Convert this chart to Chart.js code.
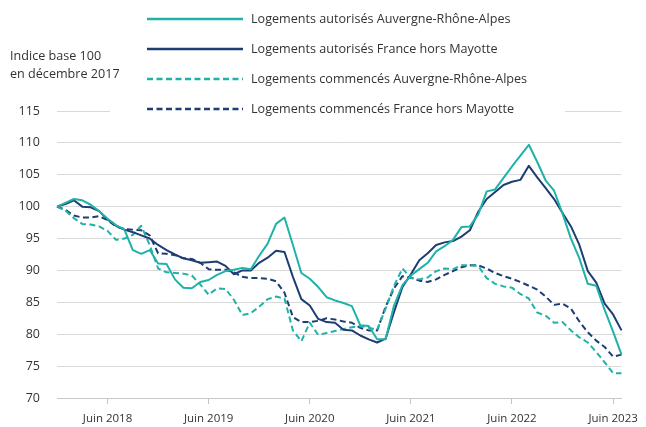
<!DOCTYPE html>
<html lang="fr">
<head>
<meta charset="utf-8">
<script src="https://cdn.jsdelivr.net/npm/chart.js@4.4.1/dist/chart.umd.min.js"></script>
<style>
  html, body { margin: 0; padding: 0; background: #fff; }
  #wrap { width: 646px; height: 427px; }
</style>
</head>
<body>
<div id="wrap"><canvas id="c" width="646" height="427"></canvas></div>
<script>
/* ===== Données (indice base 100 en décembre 2017) ===== */
const MOIS = [
  '2017-12',
  '2018-01','2018-02','2018-03','2018-04','2018-05','2018-06','2018-07','2018-08','2018-09','2018-10','2018-11','2018-12',
  '2019-01','2019-02','2019-03','2019-04','2019-05','2019-06','2019-07','2019-08','2019-09','2019-10','2019-11','2019-12',
  '2020-01','2020-02','2020-03','2020-04','2020-05','2020-06','2020-07','2020-08','2020-09','2020-10','2020-11','2020-12',
  '2021-01','2021-02','2021-03','2021-04','2021-05','2021-06','2021-07','2021-08','2021-09','2021-10','2021-11','2021-12',
  '2022-01','2022-02','2022-03','2022-04','2022-05','2022-06','2022-07','2022-08','2022-09','2022-10','2022-11','2022-12',
  '2023-01','2023-02','2023-03','2023-04','2023-05','2023-06','2023-07'
];

const AUTORISES_ARA = [
  100,
  100.6, 101.2, 101.0, 100.3, 99.3, 98.1, 97.1, 96.4, 93.2, 92.6, 93.2, 91.1,
  91.0, 88.6, 87.3, 87.2, 88.2, 88.5, 89.3, 89.9, 90.1, 90.4, 90.2, 92.3,
  94.2, 97.3, 98.3, 94.0, 89.6, 88.7, 87.4, 85.8, 85.3, 84.9, 84.4, 81.4,
  81.3, 79.2, 79.2, 84.5, 87.7, 89.2, 90.2, 91.2, 93.0, 93.8, 94.8, 96.8,
  96.9, 98.8, 102.4, 102.7, 104.5, 106.3, 108.0, 109.7, 107.0, 104.1, 102.5, 98.9,
  95.0, 91.9, 87.9, 87.6, 83.8, 80.4, 76.8
];

const AUTORISES_FRANCE = [
  100,
  100.4, 101.0, 100.0, 99.9, 99.3, 98.0, 97.0, 96.4, 96.0, 95.5, 95.0, 94.0,
  93.2, 92.5, 91.9, 91.6, 91.2, 91.3, 91.4, 90.7, 89.4, 90.0, 90.0, 91.2,
  92.0, 93.1, 92.9, 89.0, 85.5, 84.5, 82.4, 81.9, 81.8, 80.7, 80.6, 79.8,
  79.2, 78.7, 79.3, 83.5, 87.4, 89.4, 91.6, 92.7, 94.0, 94.4, 94.6, 95.3,
  96.3, 99.2, 101.2, 102.3, 103.4, 103.9, 104.2, 106.4, 104.6, 102.9, 101.2, 99.0,
  96.9, 94.0, 89.9, 88.1, 84.8, 83.1, 80.6
];

const COMMENCES_ARA = [
  100,
  99.4, 98.2, 97.3, 97.2, 96.9, 96.2, 94.8, 95.0, 95.6, 97.0, 94.0, 90.3,
  89.7, 89.6, 89.5, 89.2, 87.8, 86.2, 87.2, 87.1, 85.4, 83.0, 83.3, 84.3,
  85.5, 85.9, 85.6, 80.6, 78.9, 81.8, 79.9, 80.2, 80.5, 80.8, 81.1, 81.3,
  81.0, 80.7, 84.0, 87.6, 90.3, 88.8, 88.6, 88.9, 89.9, 90.3, 90.2, 90.8,
  90.8, 90.7, 88.8, 87.9, 87.5, 87.3, 86.3, 85.6, 83.4, 82.9, 81.8, 81.9,
  80.6, 79.5, 78.7, 77.2, 75.6, 73.9, 73.9
];

const COMMENCES_FRANCE = [
  100,
  99.5, 98.6, 98.3, 98.3, 98.5, 97.9, 96.9, 96.5, 96.4, 96.3, 95.5, 92.7,
  92.6, 92.4, 91.9, 91.8, 91.2, 90.2, 90.1, 90.1, 89.7, 89.0, 88.8, 88.8,
  88.7, 88.3, 86.5, 82.7, 81.9, 81.9, 82.1, 82.5, 82.3, 82.0, 81.8, 81.0,
  80.6, 80.6, 84.3, 87.2, 89.1, 88.9, 88.4, 88.2, 88.6, 89.3, 89.9, 90.5,
  90.8, 90.8, 90.3, 89.6, 89.1, 88.7, 88.2, 87.6, 87.0, 85.9, 84.6, 84.8,
  84.0, 82.0, 80.3, 79.0, 78.0, 76.5, 76.8
];

const SERIES_NOMS = [
  'Logements autorisés Auvergne-Rhône-Alpes',
  'Logements autorisés France hors Mayotte',
  'Logements commencés Auvergne-Rhône-Alpes',
  'Logements commencés France hors Mayotte'
];

const JUIN = ['2018-06','2019-06','2020-06','2021-06','2022-06','2023-06'];
const TICK_LABELS = ['Juin 2018','Juin 2019','Juin 2020','Juin 2021','Juin 2022','Juin 2023'];
const TITRE_Y = ['Indice base 100', 'en décembre 2017'];

/* ===== Style ===== */
const TEAL = '#1fb2a8';
const NAVY = '#1d3d73';
const DASH = [6, 3.5];
const FONT = '"Open Sans", "Noto Sans", sans-serif';
const TXT  = '#333333';

/* ===== Légende + titre de l'axe (dessinés à la main) ===== */
const legendePlugin = {
  id: 'legende',
  afterDraw(chart) {
    const { ctx } = chart;
    ctx.save();
    // bloc blanc de la légende (masque la ligne 115)
    ctx.fillStyle = '#fff';
    ctx.fillRect(110, 0, 455, 116);

    ctx.font = '12.6px ' + FONT;
    ctx.fillStyle = TXT;
    ctx.textBaseline = 'middle';
    ctx.textAlign = 'left';
    TITRE_Y.forEach((t, i) => ctx.fillText(t, 10, 56 + i * 18));

    const rows = [19, 49, 79, 109];
    chart.data.datasets.forEach((ds, i) => {
      const y = rows[i];
      ctx.beginPath();
      ctx.strokeStyle = ds.borderColor;
      ctx.lineWidth = 2.5;
      ctx.setLineDash(ds.borderDash || []);
      ctx.moveTo(147, y);
      ctx.lineTo(243, y);
      ctx.stroke();
      ctx.setLineDash([]);
      ctx.fillStyle = TXT;
      ctx.fillText(ds.label, 251, y);
    });
    ctx.restore();
  }
};

function serie(label, data, color, dashed) {
  return {
    label, data,
    borderColor: color,
    backgroundColor: color,
    borderWidth: 2,
    borderDash: dashed ? DASH : [],
    pointRadius: 0,
    tension: 0,
    borderJoinStyle: 'round',
    fill: false
  };
}

new Chart(document.getElementById('c').getContext('2d'), {
  type: 'line',
  data: {
    labels: MOIS,
    datasets: [
      serie(SERIES_NOMS[0], AUTORISES_ARA, TEAL, false),
      serie(SERIES_NOMS[1], AUTORISES_FRANCE, NAVY, false),
      serie(SERIES_NOMS[2], COMMENCES_ARA, TEAL, true),
      serie(SERIES_NOMS[3], COMMENCES_FRANCE, NAVY, true)
    ]
  },
  options: {
    responsive: false,
    animation: false,
    layout: { padding: { left: 0, right: 15, top: 111, bottom: 0 } },
    plugins: { legend: { display: false }, tooltip: { enabled: false } },
    scales: {
      x: {
        type: 'category',
        offset: false,
        grid: { drawOnChartArea: false, drawTicks: true, tickLength: 6, color: '#c4c4c4' },
        border: { display: true, color: '#c8c8c8' },
        ticks: {
          autoSkip: false, maxRotation: 0, minRotation: 0, padding: 8,
          color: TXT, font: { family: FONT, size: 11.5 },
          callback(v, i) {
            const k = JUIN.indexOf(MOIS[i]);
            return k >= 0 ? TICK_LABELS[k] : null;
          }
        },
        afterFit(s) { s.height = 29; }
      },
      y: {
        min: 70, max: 115,
        grid: { color: '#d9d9d9', drawTicks: false },
        border: { display: false },
        ticks: { stepSize: 5, padding: 17, color: TXT, font: { family: FONT, size: 12.5 } },
        afterFit(s) { s.width = 57; }
      }
    }
  },
  plugins: [legendePlugin]
});
</script>
</body>
</html>
